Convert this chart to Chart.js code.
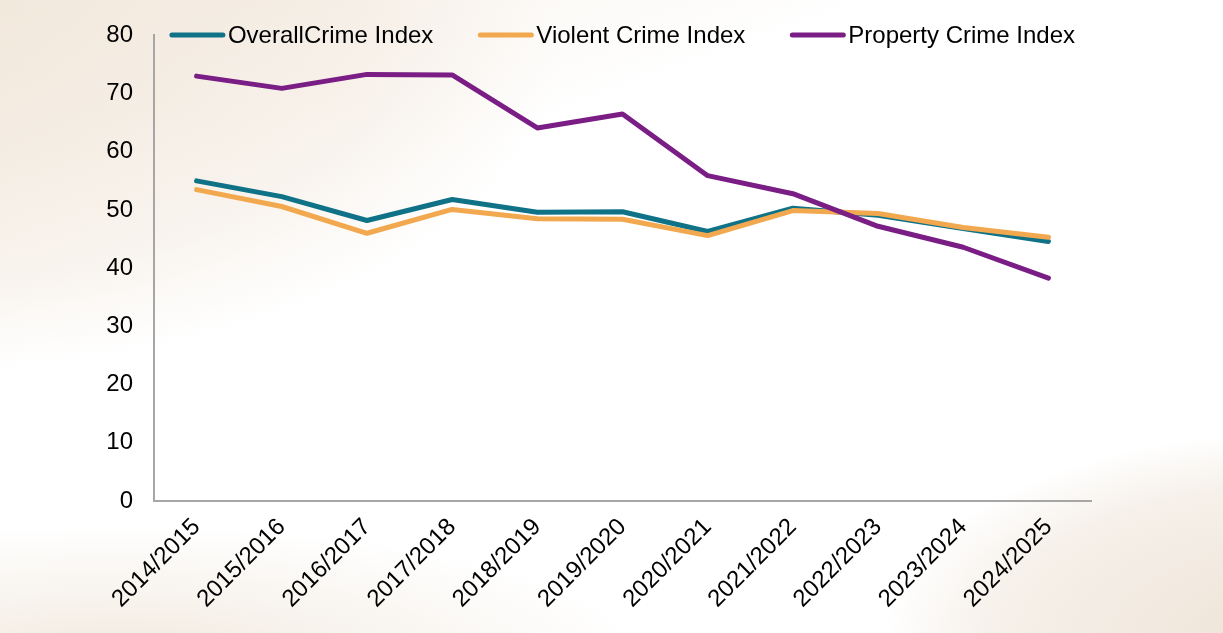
<!DOCTYPE html>
<html>
<head>
<meta charset="utf-8">
<script src="https://cdn.jsdelivr.net/npm/chart.js@4/dist/chart.umd.min.js"></script>
<style>
    html, body {
        margin: 0;
        padding: 0;
        width: 1223px;
        height: 633px;
        overflow: hidden;
    }
    body {
        background:
            radial-gradient(ellipse 900px 420px at -120px 60px, rgba(236, 222, 205, 0.5) 0%, rgba(236, 222, 205, 0.3) 55%, rgba(255, 255, 255, 0) 75%),
            linear-gradient(160deg, rgba(240, 228, 214, 0.55) 0%, rgba(255, 255, 255, 0) 30%),
            radial-gradient(ellipse 520px 260px at 1300px 640px, rgba(230, 214, 196, 0.7) 0%, rgba(230, 214, 196, 0.35) 60%, rgba(255, 255, 255, 0) 80%),
            radial-gradient(ellipse 700px 180px at 120px 660px, rgba(232, 218, 200, 0.6) 0%, rgba(255, 255, 255, 0) 75%),
            #ffffff;
    }
    #wrap {
        position: absolute;
        left: 0;
        top: 0;
        width: 1223px;
        height: 633px;
    }
</style>
</head>
<body>
<div id="wrap"><canvas id="crimeChart" width="1223" height="633"></canvas></div>
<script>
const years = ['2014/2015', '2015/2016', '2016/2017', '2017/2018', '2018/2019', '2019/2020',
    '2020/2021', '2021/2022', '2022/2023', '2023/2024', '2024/2025'];
const overallCrime = [55.0, 52.3, 48.2, 51.8, 49.6, 49.7, 46.3, 50.3, 49.1, 46.8, 44.6];
const violentCrime = [53.5, 50.6, 46.0, 50.1, 48.5, 48.4, 45.6, 49.9, 49.4, 47.0, 45.3];
const propertyCrime = [73.0, 70.9, 73.3, 73.2, 64.1, 66.5, 55.9, 52.8, 47.2, 43.6, 38.3];
const seriesNames = ['OverallCrime Index', 'Violent Crime Index', 'Property Crime Index'];
const seriesColors = ['#0f7287', '#f2a84e', '#7a1e85'];

const fontFamily = '"Liberation Sans", Arial, sans-serif';

// legend drawn by hand: line sample + text, overlapping the top of the plot
const lineLegend = {
    id: 'lineLegend',
    afterDraw(chart) {
        const ctx = chart.ctx;
        const area = chart.chartArea;
        const sets = chart.data.datasets;
        const lineLen = 55, gap = 3, spacing = 45, y = 35;
        ctx.save();
        ctx.font = '24px ' + fontFamily;
        let total = 0;
        sets.forEach((ds, i) => {
            total += lineLen + gap + ctx.measureText(ds.label).width;
            if (i < sets.length - 1) total += spacing;
        });
        let x = (area.left + area.right) / 2 - total / 2;
        sets.forEach(ds => {
            ctx.strokeStyle = ds.borderColor;
            ctx.lineWidth = 5;
            ctx.lineCap = 'round';
            ctx.beginPath();
            ctx.moveTo(x + 2, y);
            ctx.lineTo(x + lineLen - 2, y);
            ctx.stroke();
            ctx.fillStyle = '#000000';
            ctx.textBaseline = 'middle';
            ctx.textAlign = 'left';
            ctx.fillText(ds.label, x + lineLen + gap, y + 1);
            x += lineLen + gap + ctx.measureText(ds.label).width + spacing;
        });
        ctx.restore();
    }
};

function makeSet(i, values) {
    return {
        label: seriesNames[i],
        data: values,
        borderColor: seriesColors[i],
        backgroundColor: seriesColors[i],
        borderWidth: 5,
        pointRadius: 0,
        pointHoverRadius: 0,
        tension: 0,
        borderCapStyle: 'round',
        borderJoinStyle: 'round',
        fill: false,
        order: 3 - i
    };
}

const ctx = document.getElementById('crimeChart').getContext('2d');
const crimeChart = new Chart(ctx, {
    type: 'line',
    data: {
        labels: years,
        datasets: [
            makeSet(0, overallCrime),
            makeSet(1, violentCrime),
            makeSet(2, propertyCrime)
        ]
    },
    options: {
        responsive: false,
        animation: false,
        layout: {
            padding: { top: 33, right: 132, bottom: 0, left: 0 }
        },
        plugins: {
            legend: { display: false },
            title: { display: false },
            tooltip: { enabled: false }
        },
        scales: {
            x: {
                offset: true,
                grid: { display: false, drawTicks: false },
                border: { display: true, color: '#a6a6a6', width: 2 },
                ticks: {
                    color: '#000000',
                    font: { family: fontFamily, size: 24 },
                    minRotation: 45,
                    maxRotation: 45,
                    autoSkip: false,
                    padding: 12
                },
                afterFit(scale) {
                    scale.height = 132;
                }
            },
            y: {
                min: 0,
                max: 80,
                grid: { display: false, drawTicks: false },
                border: { display: true, color: '#a6a6a6', width: 2 },
                ticks: {
                    stepSize: 10,
                    color: '#000000',
                    font: { family: fontFamily, size: 24 },
                    padding: 21
                },
                afterFit(scale) {
                    scale.width = 154;
                }
            }
        }
    },
    plugins: [lineLegend]
});
</script>
</body>
</html>
